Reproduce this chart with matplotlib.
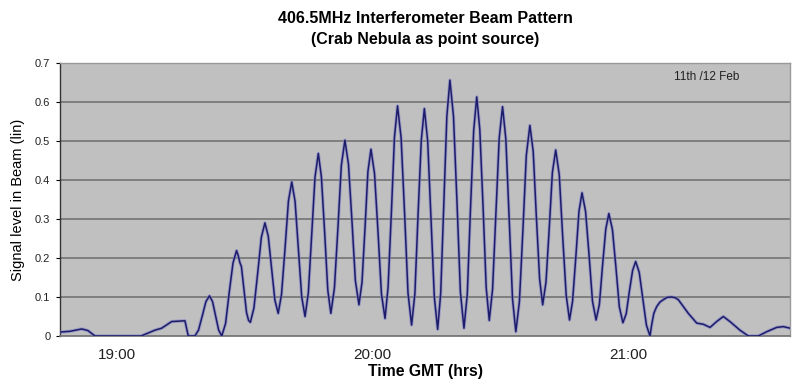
import numpy as np
import matplotlib.pyplot as plt

# time in decimal hours GMT, signal level
time_hrs = [
    18.776, 18.815, 18.861, 18.885, 18.913, 19.093, 19.148, 19.174, 19.213, 19.265,
    19.278, 19.304, 19.318, 19.333, 19.347, 19.361, 19.373, 19.385, 19.397, 19.409,
    19.424, 19.438, 19.453, 19.467, 19.474, 19.480, 19.486, 19.496, 19.506, 19.514,
    19.521, 19.535, 19.550, 19.564, 19.578, 19.591, 19.604, 19.617, 19.630, 19.643,
    19.657, 19.670, 19.683, 19.696, 19.709, 19.722, 19.735, 19.748, 19.761, 19.774,
    19.787, 19.799, 19.812, 19.824, 19.836, 19.850, 19.864, 19.877, 19.891, 19.905,
    19.919, 19.932, 19.946, 19.958, 19.970, 19.981, 19.993, 20.007, 20.021, 20.034,
    20.048, 20.060, 20.073, 20.085, 20.097, 20.111, 20.125, 20.138, 20.152, 20.165,
    20.177, 20.190, 20.202, 20.215, 20.228, 20.241, 20.254, 20.266, 20.278, 20.290,
    20.302, 20.316, 20.330, 20.343, 20.357, 20.370, 20.382, 20.395, 20.407, 20.419,
    20.432, 20.444, 20.456, 20.469, 20.482, 20.495, 20.508, 20.521, 20.534, 20.547,
    20.560, 20.574, 20.588, 20.601, 20.615, 20.628, 20.640, 20.653, 20.665, 20.678,
    20.691, 20.703, 20.716, 20.730, 20.743, 20.757, 20.770, 20.782, 20.795, 20.807,
    20.819, 20.833, 20.847, 20.860, 20.874, 20.887, 20.899, 20.912, 20.924, 20.938,
    20.952, 20.965, 20.979, 20.992, 21.004, 21.017, 21.029, 21.043, 21.057, 21.071,
    21.085, 21.092, 21.100, 21.111, 21.124, 21.137, 21.152, 21.170, 21.184, 21.196,
    21.215, 21.235, 21.268, 21.294, 21.320, 21.346, 21.372, 21.398, 21.437, 21.470,
    21.509, 21.542, 21.581, 21.607, 21.633]
signal = [
    0.010, 0.012, 0.018, 0.014, 0.000, 0.000, 0.015, 0.020, 0.037, 0.039,
    0.000, 0.000, 0.015, 0.052, 0.088, 0.103, 0.088, 0.052, 0.015, 0.000,
    0.032, 0.110, 0.187, 0.219, 0.205, 0.188, 0.178, 0.120, 0.060, 0.040,
    0.035, 0.072, 0.163, 0.253, 0.290, 0.256, 0.174, 0.092, 0.058, 0.107,
    0.227, 0.346, 0.395, 0.345, 0.223, 0.100, 0.050, 0.111, 0.259, 0.407,
    0.468, 0.408, 0.263, 0.118, 0.058, 0.123, 0.280, 0.437, 0.502, 0.440,
    0.291, 0.142, 0.080, 0.138, 0.280, 0.421, 0.479, 0.416, 0.262, 0.108,
    0.045, 0.125, 0.318, 0.510, 0.590, 0.508, 0.309, 0.110, 0.028, 0.109,
    0.306, 0.502, 0.583, 0.500, 0.300, 0.100, 0.017, 0.110, 0.337, 0.563,
    0.656, 0.563, 0.338, 0.113, 0.020, 0.107, 0.317, 0.526, 0.613, 0.529,
    0.327, 0.124, 0.040, 0.120, 0.314, 0.508, 0.588, 0.504, 0.300, 0.095,
    0.011, 0.088, 0.276, 0.463, 0.540, 0.473, 0.310, 0.147, 0.080, 0.138,
    0.279, 0.419, 0.477, 0.413, 0.259, 0.105, 0.041, 0.089, 0.204, 0.319,
    0.367, 0.319, 0.204, 0.089, 0.041, 0.081, 0.178, 0.274, 0.314, 0.273,
    0.174, 0.075, 0.034, 0.057, 0.113, 0.168, 0.191, 0.163, 0.096, 0.028,
    0.000, 0.030, 0.058, 0.075, 0.087, 0.093, 0.099, 0.100, 0.098, 0.093,
    0.076, 0.058, 0.033, 0.030, 0.022, 0.037, 0.050, 0.037, 0.015, 0.000,
    0.000, 0.011, 0.022, 0.024, 0.020]

x_ticks = [19.0, 20.0, 21.0]
x_tick_labels = ['19:00', '20:00', '21:00']
y_ticks = [0, 0.1, 0.2, 0.3, 0.4, 0.5, 0.6, 0.7]
y_tick_labels = ['0', '0.1', '0.2', '0.3', '0.4', '0.5', '0.6', '0.7']

plt.rcParams['font.family'] = ['Liberation Sans', 'DejaVu Sans']

fig = plt.figure(figsize=(8.0, 3.91), dpi=100)
ax = fig.add_axes([0.075, 0.1407, 0.9125, 0.6982])
ax.set_facecolor('#c0c0c0')

ax.plot(time_hrs, signal, color='#8080c8', lw=2.4, alpha=0.6, zorder=3)
ax.plot(time_hrs, signal, color='#1c1c6a', lw=1.1, zorder=4)

ax.set_xlim(18.776, 21.633)
ax.set_ylim(0, 0.7)
ax.set_yticks(y_ticks)
ax.set_yticklabels(y_tick_labels, fontsize=8, color='#222222')
ax.set_xticks(x_ticks)
ax.set_xticklabels(x_tick_labels, fontsize=11, color='#222222')
ax.tick_params(axis='x', length=0, pad=9)
ax.tick_params(axis='y', length=3, width=0.8, pad=4)

ax.grid(axis='y', color='#7a7a7a', lw=1.3)
ax.set_axisbelow(True)
for side in ['top', 'right']:
    ax.spines[side].set_color('#9a9a9a')
    ax.spines[side].set_linewidth(1.0)
ax.spines['bottom'].set_color('#7a7a7a')
ax.spines['bottom'].set_linewidth(1.3)
ax.spines['left'].set_color('#333333')
ax.spines['left'].set_linewidth(1.0)

ax.set_xlabel('Time GMT (hrs)', fontsize=11.3, fontweight='bold', labelpad=1)
ax.set_ylabel('Signal level in Beam (lin)', fontsize=10.5, labelpad=7)
ax.set_title('406.5MHz Interferometer Beam Pattern\n(Crab Nebula as point source)',
             fontsize=11.5, fontweight='bold', pad=14, linespacing=1.45)
ax.text(0.886, 0.95, '11th /12 Feb', transform=ax.transAxes, fontsize=8.5,
        ha='center', va='center', color='#222222')

fig.savefig('out.png', dpi=100)
